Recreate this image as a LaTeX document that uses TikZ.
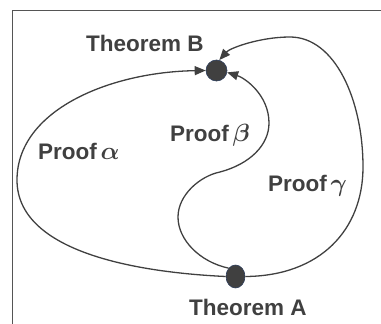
\documentclass[tikz,border=0pt]{standalone}
\usepackage{amsmath}
\usepackage{fontspec}
\setmainfont{Liberation Sans}
\usetikzlibrary{arrows.meta,shapes.geometric}
\definecolor{ink}{HTML}{404040}
\definecolor{dotedge}{HTML}{2E3E5C}
\definecolor{framec}{HTML}{555555}
\newcommand{\grk}[1]{{\fontsize{27}{30}\selectfont$\boldsymbol{#1}$}}
\tikzset{
  lbl/.style={anchor=base west, inner sep=0pt, text=ink, font=\fontsize{22.5}{26}\selectfont\bfseries},
  dotB/.style={circle, fill=ink, draw=dotedge, line width=0.6pt, minimum size=21pt, inner sep=0pt},
  dotA/.style={ellipse, fill=ink, draw=dotedge, line width=0.6pt, minimum width=19pt, minimum height=23pt, inner sep=0pt},
  proof/.style={draw=ink, line width=1.3pt, -{Triangle[length=11pt,width=9pt]}},
}
\begin{document}
\begin{tikzpicture}[x=1pt,y=-1pt]
\useasboundingbox (0,0) rectangle (381,324);
\draw[framec, line width=1pt] (12.5,324) -- (12.5,10) -- (381,10);
\node[dotB] (B) at (216.5,70.5) {};
\node[dotA] (A) at (235.5,276.5) {};
\node[lbl] (tB) at (86,52) {Theorem B};
\node[lbl] (tA) at (189,315) {Theorem A};
\node[lbl] (pa) at (38,159) {Proof\,\grk{\alpha}};
\node[lbl] (pb) at (170,141.7) {Proof\,\grk{\beta}};
\node[lbl] (pg) at (268,191.7) {Proof\,\grk{\gamma}};
% alpha
\draw[proof] (A.west) .. controls (130,272) and (17,250) .. (17,180)
  .. controls (17,110) and (110,72) .. (B.west);
% beta
\draw[proof] (A.north west) .. controls (200,262) and (178,240) .. (178,217)
  .. controls (178,195) and (200,176) .. (220,172)
  .. controls (250,164) and (269,145) .. (269,123)
  .. controls (269,95) and (245,78) .. (B.-10);
% gamma
\draw[proof] (A.east) .. controls (320,276) and (363,230) .. (363,167)
  .. controls (363,100) and (335,37) .. (290,37)
  .. controls (260,37) and (230,48) .. (B.75);
\end{tikzpicture}
\end{document}
